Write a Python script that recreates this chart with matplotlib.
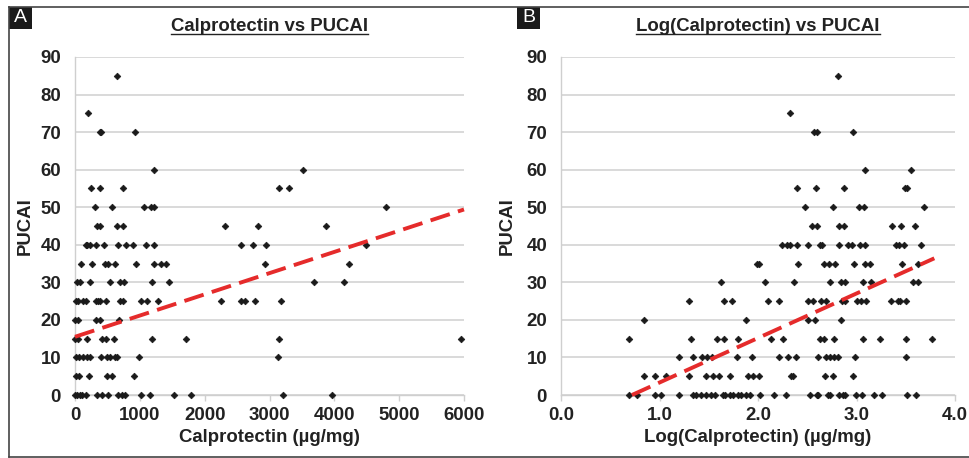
import matplotlib.pyplot as plt
from matplotlib.lines import Line2D
from matplotlib.patches import Rectangle

plt.rcParams['font.family'] = ['Liberation Sans', 'DejaVu Sans']

# PUCAI score levels (y) and the x values read at each level
pucai_levels = [85, 75, 70, 60, 55, 50, 45, 40, 35, 30, 25, 20, 15, 10, 5, 0]

# Panel A: calprotectin (ug/mg)
calpro_at_level = [
    [643],
    [206],
    [380, 395, 931],
    [1214, 3520],
    [252, 386, 741, 3149, 3299],
    [304, 576, 1060, 1178, 1214, 4791],
    [340, 380, 653, 746, 2310, 2825, 3865],
    [165, 190, 226, 329, 442, 659, 792, 890, 1101, 1220, 2558, 2738, 2943, 4492],
    [98, 257, 458, 509, 612, 937, 1214, 1328, 1410, 2938, 4220],
    [31, 77, 226, 535, 700, 751, 1189, 1446, 3685, 4153],
    [10, 51, 129, 165, 319, 350, 386, 473, 690, 741, 1014, 1106, 1276,
     2249, 2558, 2619, 2784, 3175],
    [0, 51, 329, 386, 679],
    [0, 51, 185, 422, 484, 597, 1189, 1719, 3149, 5949],
    [21, 62, 118, 190, 226, 396, 494, 535, 612, 653, 988, 3124],
    [10, 62, 216, 494, 576, 916],
    [0, 31, 72, 113, 175, 340, 412, 515, 659, 731, 772, 1014, 1158, 1534,
     1791, 3201, 3968],
]

# Panel B: log(calprotectin)
logcal_at_level = [
    [2.81],
    [2.32],
    [2.57, 2.60, 2.96],
    [3.09, 3.55],
    [2.40, 2.59, 2.87, 3.49, 3.51],
    [2.48, 2.76, 3.03, 3.08, 3.69],
    [2.55, 2.60, 2.82, 2.87, 3.36, 3.45, 3.59],
    [2.24, 2.29, 2.32, 2.40, 2.51, 2.63, 2.65, 2.82, 2.91, 2.95, 3.04, 3.09,
     3.40, 3.43, 3.48, 3.65],
    [1.99, 2.01, 2.41, 2.67, 2.72, 2.78, 2.97, 3.09, 3.14, 3.46, 3.62],
    [1.62, 2.07, 2.37, 2.73, 2.84, 2.88, 3.07, 3.15, 3.57, 3.62],
    [1.30, 1.65, 1.74, 2.10, 2.21, 2.51, 2.56, 2.64, 2.69, 2.85, 2.88, 3.01,
     3.05, 3.10, 3.35, 3.42, 3.44, 3.50],
    [0.84, 1.88, 2.51, 2.58, 2.84],
    [0.69, 1.32, 1.58, 1.65, 1.80, 2.13, 2.25, 2.63, 2.67, 2.77, 3.07, 3.24,
     3.50, 3.77],
    [1.20, 1.34, 1.43, 1.48, 1.53, 1.79, 1.94, 2.21, 2.30, 2.39, 2.61, 2.69,
     2.73, 2.77, 2.81, 2.98, 3.50],
    [0.84, 0.95, 1.07, 1.30, 1.47, 1.54, 1.60, 1.72, 1.90, 1.95, 2.01, 2.33,
     2.36, 2.68, 2.76, 2.96],
    [0.69, 0.77, 0.95, 1.02, 1.20, 1.34, 1.37, 1.42, 1.47, 1.52, 1.56, 1.64,
     1.66, 1.72, 1.75, 1.80, 1.83, 1.88, 1.92, 2.02, 2.16, 2.28, 2.53, 2.60,
     2.61, 2.71, 2.73, 2.82, 2.86, 2.88, 2.99, 3.06, 3.18, 3.26, 3.51, 3.60],
]

# trend line end points as drawn
trend_a_x, trend_a_y = [0, 6000], [15.5, 49.4]
trend_b_x, trend_b_y = [0.72, 3.79], [0.0, 36.4]

x_ticks_a = [0, 1000, 2000, 3000, 4000, 5000, 6000]
x_ticks_b = [0.0, 1.0, 2.0, 3.0, 4.0]
y_ticks = [0, 10, 20, 30, 40, 50, 60, 70, 80, 90]


def flatten(levels, xs):
    px, py = [], []
    for lev, row in zip(levels, xs):
        for v in row:
            px.append(v)
            py.append(lev)
    return px, py


W, H = 969, 458
fig = plt.figure(figsize=(W / 100, H / 100), dpi=100)
fig.patch.set_facecolor('white')

ax_a = fig.add_axes([75 / W, 1 - 395 / H, 389 / W, 338 / H])
ax_b = fig.add_axes([561 / W, 1 - 395 / H, 394 / W, 338 / H])

txt_col = '#222222'
grid_col = '#d9d9d9'
fs = 13.4

panels = [
    (ax_a, calpro_at_level, trend_a_x, trend_a_y, x_ticks_a, (0, 6000),
     'Calprotectin vs PUCAI', 'Calprotectin (\u00b5g/mg)', -0.128, '%d'),
    (ax_b, logcal_at_level, trend_b_x, trend_b_y, x_ticks_b, (0, 4),
     'Log(Calprotectin) vs PUCAI', 'Log(Calprotectin) (\u00b5g/mg)', -0.137, '%.1f'),
]

titles = []
for ax, xs, tx, ty, xt, xl, title, xlabel, ylab_x, fmt in panels:
    px, py = flatten(pucai_levels, xs)
    ax.plot(px, py, linestyle='none', marker='D', markersize=3.4,
            color='#1a1a1a', markeredgewidth=0.5, clip_on=False, zorder=3)
    ax.plot(tx, ty, color='#e52b2b', linewidth=2.8, dashes=(5.2, 2.2),
            solid_capstyle='butt', dash_capstyle='butt', zorder=4, clip_on=False)

    ax.set_xlim(*xl)
    ax.set_ylim(0, 90)
    ax.set_xticks(xt)
    ax.set_yticks(y_ticks)
    ax.set_xticklabels([fmt % v for v in xt])
    ax.grid(axis='y', color=grid_col, linewidth=1.4)
    ax.set_axisbelow(True)
    for s in ['top', 'right']:
        ax.spines[s].set_visible(False)
    for s in ['left', 'bottom']:
        ax.spines[s].set_color('#cfcfcf')
        ax.spines[s].set_linewidth(1.0)
    ax.tick_params(axis='x', length=4, width=1, color='#cfcfcf', pad=5,
                   labelsize=fs, labelcolor=txt_col)
    ax.tick_params(axis='y', length=0, pad=10, labelsize=fs, labelcolor=txt_col)
    for lab in ax.get_xticklabels() + ax.get_yticklabels():
        lab.set_fontweight('bold')

    ax.set_ylabel('PUCAI', fontsize=fs, fontweight='bold', color=txt_col)
    ax.yaxis.set_label_coords(ylab_x, 0.5)
    ax.yaxis.label.set_verticalalignment('center')
    ax.set_xlabel(xlabel, fontsize=fs, fontweight='bold', color=txt_col)
    ax.xaxis.set_label_coords(0.5, -0.127)
    ax.xaxis.label.set_verticalalignment('center')

    t = ax.text(0.5, 1 + 30 / 338, title, transform=ax.transAxes, ha='center',
                va='center', fontsize=fs, fontweight='bold', color=txt_col)
    titles.append(t)

# panel letters in black boxes
for x0, letter in [(9, 'A'), (517, 'B')]:
    fig.add_artist(Rectangle((x0 / W, 1 - 29 / H), 23 / W, 22 / H,
                             transform=fig.transFigure, facecolor='#1a1a1a',
                             edgecolor='none'))
    fig.text((x0 + 11.5) / W, 1 - 18 / H, letter, ha='center', va='center',
             color='white', fontsize=14)

# outer frame
frame_col = '#444444'
fig.add_artist(Line2D([9 / W, 1], [1 - 7 / H, 1 - 7 / H], color=frame_col,
                      linewidth=1.2, transform=fig.transFigure))
fig.add_artist(Line2D([9 / W, 1], [1 - 457 / H, 1 - 457 / H], color=frame_col,
                      linewidth=1.2, transform=fig.transFigure))
fig.add_artist(Line2D([9 / W, 9 / W], [1 - 7 / H, 1 - 457 / H], color=frame_col,
                      linewidth=1.2, transform=fig.transFigure))

# underline the titles
fig.canvas.draw()
r = fig.canvas.get_renderer()
for t in titles:
    bb = t.get_window_extent(r)
    y = bb.y0 + 1
    fig.add_artist(Line2D([bb.x0 / W, bb.x1 / W], [y / H, y / H],
                          color=txt_col, linewidth=1.0,
                          transform=fig.transFigure))

fig.savefig('out.png', dpi=100)
